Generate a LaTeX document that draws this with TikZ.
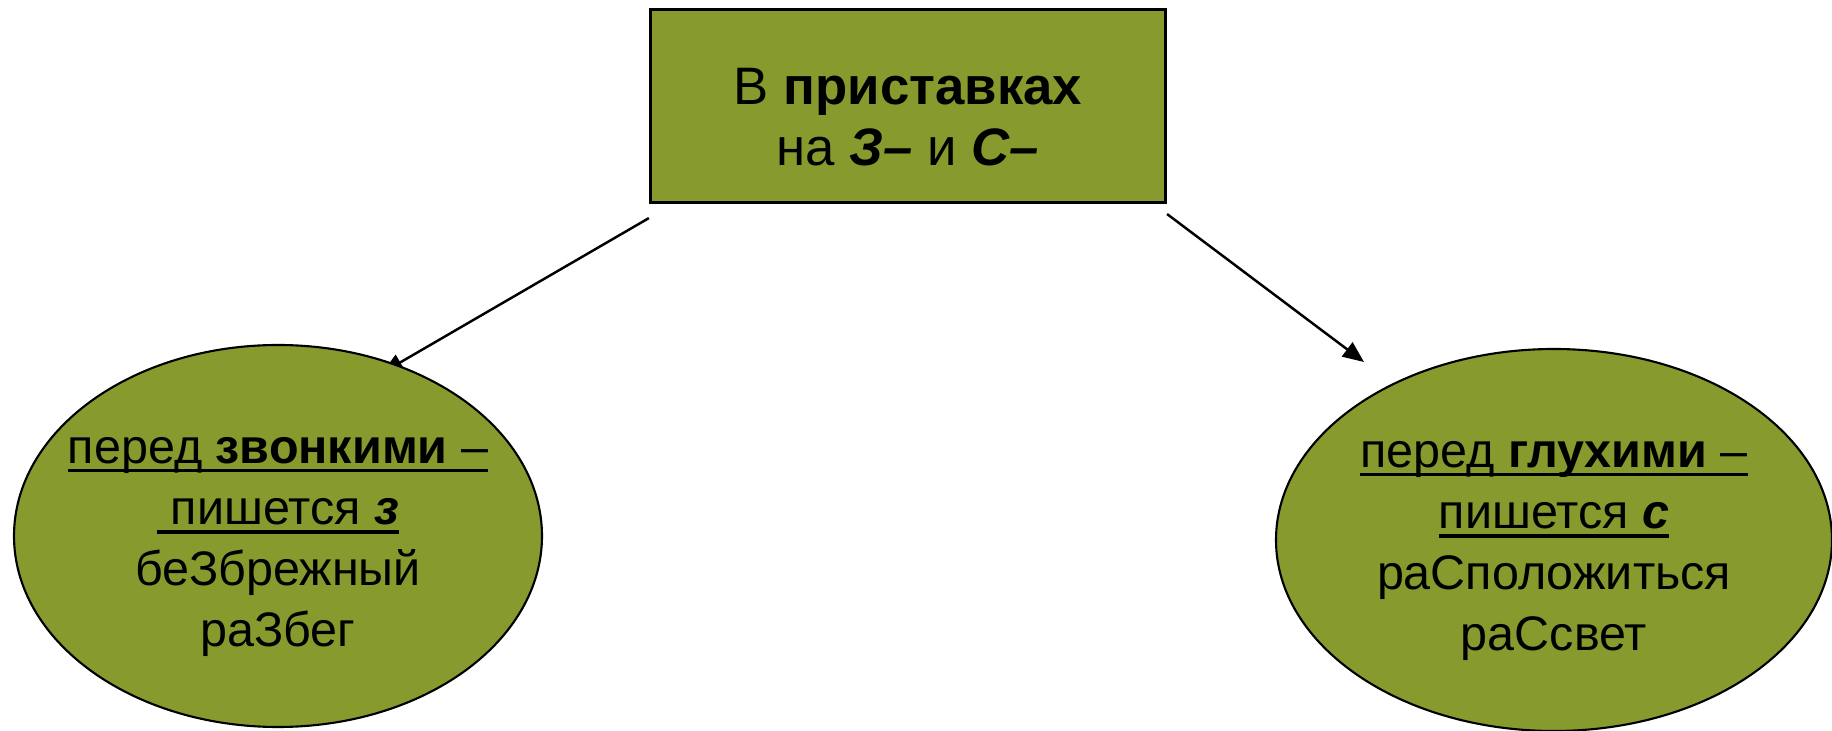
\documentclass[tikz,border=0pt]{standalone}
\usepackage{fontspec}
\setmainfont{Liberation Sans}
\usepackage{tikz}
\usepackage{xcolor}
\usetikzlibrary{shapes.geometric,arrows.meta,backgrounds}
\definecolor{olivegreen}{RGB}{134,154,46}
\newcommand{\ulbar}[1]{\setbox0=\hbox{#1}\rlap{\rule[-2.6pt]{\wd0}{1.1pt}}\box0}
\tikzset{
    title-box/.style = {draw=black, fill=olivegreen, line width=0.9pt, rectangle, minimum width=5.15cm, minimum height=1.93cm},
    title-text/.style = {align=center, inner sep=0pt, font=\fontsize{15}{17.3}\selectfont},
    rule-oval/.style = {draw=black, fill=olivegreen, line width=0.6pt, ellipse, inner sep=0pt, minimum height=3.82cm},
    rule-text/.style = {align=center, inner sep=0pt, font=\fontsize{13.8}{17.4}\selectfont},
    link-arrow/.style = {draw=black, line width=0.7pt, -{Triangle[length=6pt, width=5pt]}},
}

\begin{document}
\begin{tikzpicture}
\useasboundingbox (0,0) rectangle (18.32,-7.31);
\node [title-box] (prefix) at (9.08,-1.06) {};
\node [title-text] (prefix-text) at ([yshift=-0.11cm]prefix.center) {В \textbf{приставках}\\на \textbf{\textit{З–}} и \textbf{\textit{С–}}};
\node [rule-oval, minimum width=5.28cm] (voiced) at (2.78,-5.36) {};
\node [rule-text] (voiced-text) at ([yshift=-0.11cm]voiced.center) {\ulbar{перед \textbf{звонкими} –}\\\ulbar{\ пишется \textbf{\textit{з}}}\\беЗбрежный\\раЗбег};
\node [rule-oval, minimum width=5.56cm] (voiceless) at (15.54,-5.40) {};
\node [rule-text] (voiceless-text) at ([yshift=-0.11cm]voiceless.center) {\ulbar{перед \textbf{глухими} –}\\\ulbar{пишется \textbf{\textit{с}}}\\раСположиться\\раСсвет};
\coordinate (voiced-tip) at (3.82,-3.73);
\coordinate (voiceless-tip) at (13.64,-3.62);
\begin{scope}[on background layer]
\draw [link-arrow] ([yshift=-0.14cm]prefix.south west) -- (voiced-tip);
\draw [link-arrow] ([yshift=-0.10cm]prefix.south east) -- (voiceless-tip);
\end{scope}
\end{tikzpicture}
\end{document}
